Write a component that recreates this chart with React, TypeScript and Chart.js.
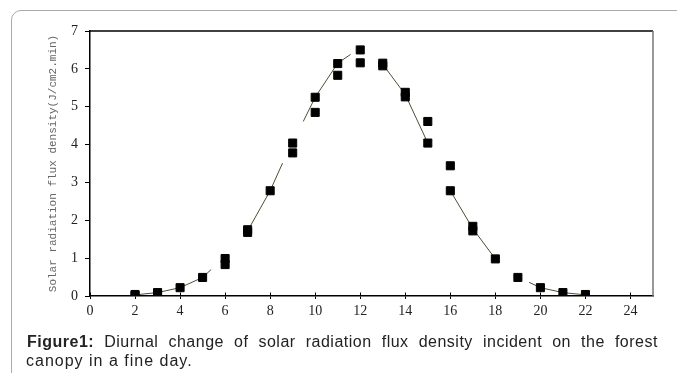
import React, { useEffect, useRef } from "react";
import { Chart, registerables } from "chart.js";

Chart.register(...registerables);

// Measured observations (hour of day, flux density)
const obsHours = [2, 2, 3, 3, 4, 5, 6, 6, 7, 7, 8, 9, 9, 10, 10, 11, 11, 12, 12, 13, 13, 14, 14, 15, 15, 16, 16, 17, 17, 18, 19, 20, 21, 22];
const obsValues = [0.04, 0.02, 0.09, 0.07, 0.22, 0.49, 0.99, 0.83, 1.75, 1.68, 2.78, 4.04, 3.78, 5.25, 4.85, 6.14, 5.83, 6.5, 6.16, 6.15, 6.08, 5.38, 5.26, 4.61, 4.04, 3.44, 2.78, 1.84, 1.72, 0.98, 0.49, 0.22, 0.09, 0.04];

// Fitted trend line (null = gap in the drawn curve)
const fitHours = [2, 3, 4, 5, 5.38, 6.2, 7, 8, 8.55, 9, 9.47, 10, 11, 11.57, 12.3, 13, 14, 15, 15.5, 16, 17, 18, 18.7, 19.5, 20, 21, 22];
const fitValues = [0.03, 0.09, 0.22, 0.49, 0.7, null, 1.72, 2.78, 3.51, null, 4.61, 5.25, 6.15, 6.38, null, 6.12, 5.32, 4.04, null, 2.78, 1.78, 0.98, null, 0.36, 0.22, 0.09, 0.03];

const xTickMin = 0;
const xTickMax = 25;
const xTickStep = 2;
const yTickMin = 0;
const yTickMax = 7;
const yTickStep = 1;

const yTitle = "Solar radiation flux density(J/cm2.min)";
const captionBold = "Figure1:";
const captionLine1 = "Diurnal change of solar radiation flux density incident on the forest";
const captionLine2 = "canopy in a fine day.";

export default function App() {
  const canvasRef = useRef<HTMLCanvasElement | null>(null);

  useEffect(() => {
    const canvas = canvasRef.current;
    if (!canvas) return;

    const framePlugin = {
      id: "frame",
      afterDraw(chart: any) {
        const { ctx, chartArea } = chart;
        const { left, right, top, bottom } = chartArea;
        ctx.save();
        ctx.strokeStyle = "#000";
        ctx.lineWidth = 1.5;
        ctx.beginPath();
        ctx.moveTo(left, top);
        ctx.lineTo(right, top);
        ctx.stroke();
        ctx.strokeStyle = "#777";
        ctx.beginPath();
        ctx.moveTo(right, top);
        ctx.lineTo(right, bottom);
        ctx.stroke();
        const xs = chart.scales.x;
        ctx.strokeStyle = "#000";
        ctx.lineWidth = 1;
        for (const t of xs.ticks) {
          const px = Math.round(xs.getPixelForValue(t.value)) + 0.5;
          ctx.beginPath();
          ctx.moveTo(px, bottom);
          ctx.lineTo(px, bottom - 3.5);
          ctx.stroke();
        }
        ctx.restore();
      },
    };

    const chart = new Chart(canvas, {
      type: "scatter",
      data: {
        datasets: [
          {
            label: "fit",
            data: fitHours.map((h, i) => ({ x: h, y: fitValues[i] as any })),
            showLine: true,
            spanGaps: false,
            borderColor: "#4d4d33",
            borderWidth: 1,
            pointRadius: 0,
            order: 2,
          },
          {
            label: "observed",
            data: obsHours.map((h, i) => ({ x: h, y: obsValues[i] })),
            showLine: false,
            pointStyle: "rect",
            pointRadius: 5.7,
            pointBorderWidth: 1,
            backgroundColor: "#000",
            borderColor: "#000",
            order: 1,
          },
        ],
      },
      options: {
        responsive: false,
        animation: false,
        events: [],
        layout: { padding: { left: 0, top: 31, right: 24, bottom: 47 } },
        plugins: {
          legend: { display: false },
          tooltip: { enabled: false },
          title: { display: false },
        },
        scales: {
          x: {
            type: "linear",
            min: xTickMin,
            max: xTickMax,
            afterFit: (s: any) => {
              s.height = 30;
            },
            ticks: {
              stepSize: xTickStep,
              includeBounds: false,
              padding: 4,
              color: "#222",
              font: { family: "Liberation Serif", size: 14 },
              maxRotation: 0,
            },
            grid: {
              display: true,
              drawOnChartArea: false,
              drawTicks: true,
              tickLength: 3,
              color: "#000",
              lineWidth: 1,
            },
            border: { display: true, color: "#000", width: 1.5 },
          },
          y: {
            type: "linear",
            min: yTickMin,
            max: yTickMax,
            afterFit: (s: any) => {
              s.width = 90;
            },
            ticks: {
              stepSize: yTickStep,
              padding: 7,
              color: "#222",
              font: { family: "Liberation Serif", size: 14 },
            },
            grid: {
              display: true,
              drawOnChartArea: false,
              drawTicks: true,
              tickLength: 5,
              color: "#000",
              lineWidth: 1,
            },
            border: { display: true, color: "#000", width: 1.5 },
            title: {
              display: true,
              text: yTitle,
              color: "#666",
              font: { family: "Liberation Mono", size: 11 },
              padding: { top: 46, bottom: 0 },
            },
          },
        },
      },
      plugins: [framePlugin],
    });

    return () => {
      chart.destroy();
    };
  }, []);

  const words = captionLine1.split(" ");

  return (
    <div
      style={{
        position: "fixed",
        left: 0,
        top: 0,
        width: 677,
        height: 373,
        background: "#fff",
        overflow: "hidden",
      }}
    >
      <div
        style={{
          position: "absolute",
          left: 11,
          top: 10,
          width: 720,
          height: 420,
          border: "1.5px solid #aaa",
          borderRadius: 10,
          boxSizing: "border-box",
        }}
      />
      <canvas
        ref={canvasRef}
        width={677}
        height={373}
        style={{ position: "absolute", left: 0, top: 0, width: 677, height: 373 }}
      />
      <div
        style={{
          position: "absolute",
          left: 27,
          top: 332,
          width: 631,
          display: "flex",
          justifyContent: "space-between",
          whiteSpace: "nowrap",
          fontFamily: "'Liberation Sans', Arial, sans-serif",
          fontSize: 16,
          lineHeight: "20px",
          letterSpacing: "0.5px",
          color: "#222",
        }}
      >
        <b>{captionBold}</b>
        {words.map((w, i) => (
          <span key={i}>{w}</span>
        ))}
      </div>
      <div
        style={{
          position: "absolute",
          left: 26,
          top: 351,
          fontFamily: "'Liberation Sans', Arial, sans-serif",
          fontSize: 16,
          lineHeight: "20px",
          letterSpacing: "1px",
          color: "#222",
          whiteSpace: "nowrap",
        }}
      >
        {captionLine2}
      </div>
    </div>
  );
}
